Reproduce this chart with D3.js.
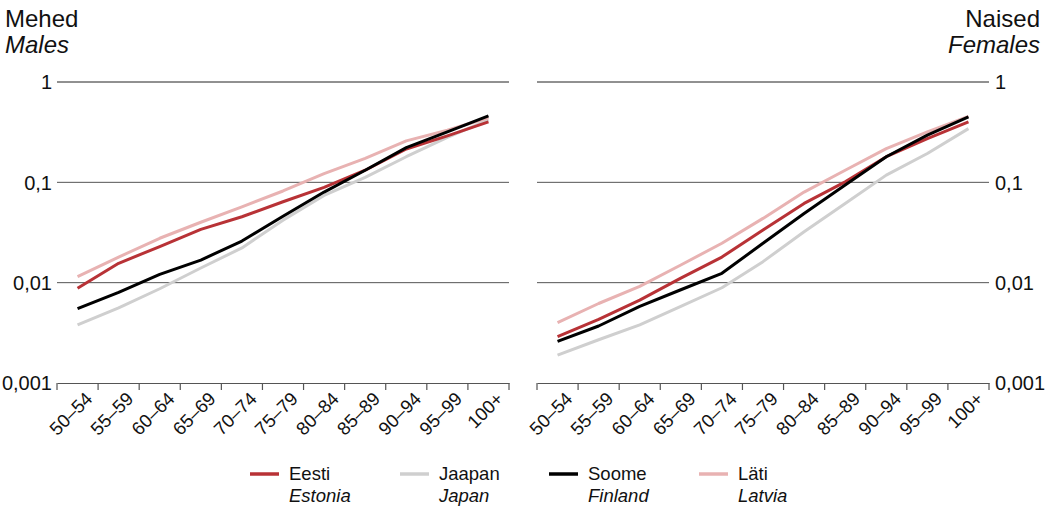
<!DOCTYPE html>
<html>
<head>
<meta charset="utf-8">
<script src="https://cdn.jsdelivr.net/npm/d3@7"></script>
<style>
  body { margin: 0; background: #fff; }
  svg { font-family: "Liberation Sans", Arial, sans-serif; }
</style>
</head>
<body>
<svg id="chart" width="1050" height="506"></svg>
<script>
const ageGroups = ["50–54","55–59","60–64","65–69","70–74","75–79","80–84","85–89","90–94","95–99","100+"];
const yTicks = [0.001, 0.01, 0.1, 1];
const yTickLabels = ["0,001", "0,01", "0,1", "1"];

const seriesNames = ["Eesti", "Jaapan", "Soome", "Läti"];
const seriesNamesEn = ["Estonia", "Japan", "Finland", "Latvia"];

// Males
const malesEesti  = [0.0088, 0.0156, 0.0229, 0.034, 0.0454, 0.064, 0.089, 0.132, 0.215, 0.29, 0.40];
const malesJaapan = [0.0038, 0.0056, 0.0087, 0.0140, 0.0222, 0.042, 0.074, 0.112, 0.180, 0.280, 0.42];
const malesSoome  = [0.0055, 0.0080, 0.0121, 0.0168, 0.026, 0.046, 0.080, 0.132, 0.222, 0.318, 0.46];
const malesLati   = [0.0115, 0.0180, 0.0277, 0.040, 0.057, 0.082, 0.122, 0.173, 0.259, 0.33, 0.44];

// Females
const femalesEesti  = [0.0029, 0.0043, 0.0067, 0.0111, 0.018, 0.0335, 0.0616, 0.101, 0.180, 0.273, 0.40];
const femalesJaapan = [0.0019, 0.0027, 0.0038, 0.0058, 0.0089, 0.0162, 0.0322, 0.0616, 0.118, 0.194, 0.343];
const femalesSoome  = [0.0026, 0.0037, 0.0058, 0.0085, 0.0124, 0.0247, 0.049, 0.094, 0.180, 0.295, 0.45];
const femalesLati   = [0.0040, 0.0062, 0.0092, 0.0150, 0.0247, 0.0437, 0.080, 0.132, 0.217, 0.318, 0.455];

const colors = ["#b83236", "#cfcfcf", "#000000", "#e8b2b2"];
const drawOrder = [1, 3, 0, 2];

const svg = d3.select("#chart");
const plotTop = 82, plotBottom = 383;
const y = d3.scaleLog().domain([0.001, 1]).range([plotBottom, plotTop]);

function panel(x0, x1, data, side) {
  const x = d3.scaleBand().domain(ageGroups).range([x0, x1]).padding(0);
  const g = svg.append("g");

  g.selectAll("line.grid").data(yTicks.slice(1)).join("line")
    .attr("x1", x0).attr("x2", x1)
    .attr("y1", d => y(d)).attr("y2", d => y(d))
    .attr("stroke", d => d === 1 ? "#222" : "#555").attr("stroke-width", 1);

  g.selectAll("text.yl").data(yTicks).join("text")
    .attr("x", side === "left" ? x0 - 5 : x1 + 6)
    .attr("y", d => y(d))
    .attr("dy", "0.36em")
    .attr("text-anchor", side === "left" ? "end" : "start")
    .attr("font-size", 20)
    .attr("fill", "#111")
    .text((d, i) => yTickLabels[i]);

  const ax = g.append("g").attr("transform", `translate(0,${plotBottom})`)
    .call(d3.axisBottom(x).tickSize(0).tickFormat(""));
  ax.select(".domain").attr("stroke", "#555").attr("stroke-width", 1.2);
  const bounds = ageGroups.map(a => x(a)).concat([x1]);
  g.selectAll("line.xt").data(bounds).join("line")
    .attr("x1", d => d).attr("x2", d => d)
    .attr("y1", plotBottom).attr("y2", plotBottom + 7)
    .attr("stroke", "#555").attr("stroke-width", 1.2);

  g.selectAll("text.xl").data(ageGroups).join("text")
    .attr("transform", d => `translate(${x(d) + x.bandwidth() / 2 + 16},${plotBottom + 17}) rotate(-45)`)
    .attr("text-anchor", "end")
    .attr("font-size", 18.5)
    .attr("fill", "#111")
    .text(d => d);

  const line = d3.line()
    .x((d, i) => x(ageGroups[i]) + x.bandwidth() / 2)
    .y(d => y(d));

  drawOrder.forEach(k => {
    g.append("path")
      .datum(data[k])
      .attr("d", line)
      .attr("fill", "none")
      .attr("stroke", colors[k])
      .attr("stroke-width", 3)
      .attr("stroke-linejoin", "round");
  });
}

panel(57, 509, [malesEesti, malesJaapan, malesSoome, malesLati], "left");
panel(537, 989, [femalesEesti, femalesJaapan, femalesSoome, femalesLati], "right");

svg.append("text").attr("x", 5).attr("y", 27).attr("font-size", 24).attr("fill", "#111").text("Mehed");
svg.append("text").attr("x", 5).attr("y", 53).attr("font-size", 24).attr("font-style", "italic").attr("fill", "#111").text("Males");
svg.append("text").attr("x", 1040).attr("y", 27).attr("font-size", 24).attr("text-anchor", "end").attr("fill", "#111").text("Naised");
svg.append("text").attr("x", 1040).attr("y", 53).attr("font-size", 24).attr("text-anchor", "end").attr("font-style", "italic").attr("fill", "#111").text("Females");

const legendX = [250, 400, 549, 699];
seriesNames.forEach((name, i) => {
  const lg = svg.append("g").attr("transform", `translate(${legendX[i]},0)`);
  lg.append("line").attr("x1", 0).attr("x2", 29).attr("y1", 474).attr("y2", 474)
    .attr("stroke", colors[i]).attr("stroke-width", 3.5);
  lg.append("text").attr("x", 39).attr("y", 480).attr("font-size", 18.5).attr("fill", "#111").text(name);
  lg.append("text").attr("x", 39).attr("y", 502).attr("font-size", 18.5).attr("font-style", "italic").attr("fill", "#111").text(seriesNamesEn[i]);
});
</script>
</body>
</html>
